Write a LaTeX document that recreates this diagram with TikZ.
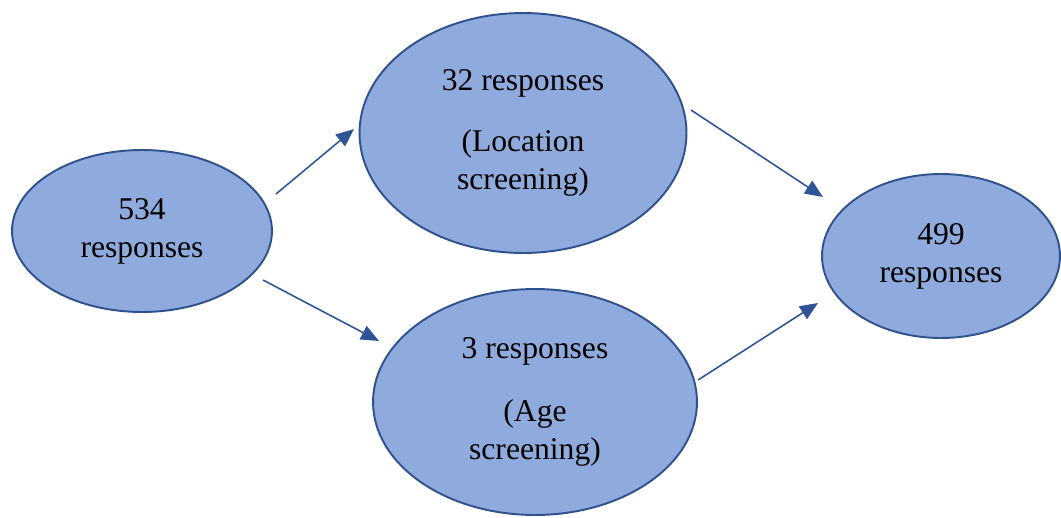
\documentclass[tikz,border=0pt]{standalone}
\usepackage{fontspec}
\setmainfont{Liberation Serif}
\usetikzlibrary{arrows.meta,positioning,shapes.geometric}
\definecolor{ovalfill}{RGB}{143,170,220}
\definecolor{ovaledge}{RGB}{47,82,143}
\definecolor{arrowblue}{RGB}{47,85,151}

\begin{document}
\begin{tikzpicture}[x=0.02cm, y=-0.02cm, font=\fontsize{18}{21.6}\selectfont]
  \tikzstyle{oval}=[ellipse,draw=ovaledge,line width=1.1pt,fill=ovalfill,align=center,inner sep=0pt]
  \tikzstyle{arr}=[color=arrowblue,line width=0.9pt,-{Triangle[length=3.6mm,width=3mm]}]
  \useasboundingbox (0,0) rectangle (1061,517);

  % responses at each stage
  \node[oval,minimum width=5.2cm,minimum height=3.24cm] (total) at (142,231) {534\\responses};
  \node[oval,minimum width=6.54cm,minimum height=4.8cm] (location) at (523,133) {32 responses\\[0.46cm](Location\\screening)};
  \node[oval,minimum width=6.48cm,minimum height=4.52cm] (age) at (535,402) {3 responses\\[0.5cm](Age\\screening)};
  \node[oval,minimum width=4.76cm,minimum height=3.28cm] (final) at (941,256) {499\\responses};

  % arrow ends
  \coordinate (totA) at (276,194);
  \coordinate (locIn) at (354,129);
  \coordinate (totB) at (263,280);
  \coordinate (ageIn) at (379,341);
  \coordinate (locOut) at (691,110);
  \coordinate (finA) at (823,197);
  \coordinate (ageOut) at (698,380);
  \coordinate (finB) at (818,303);

  % arrows
  \draw[arr] (totA) -- (locIn);
  \draw[arr] (totB) -- (ageIn);
  \draw[arr] (locOut) -- (finA);
  \draw[arr] (ageOut) -- (finB);
\end{tikzpicture}
\end{document}
